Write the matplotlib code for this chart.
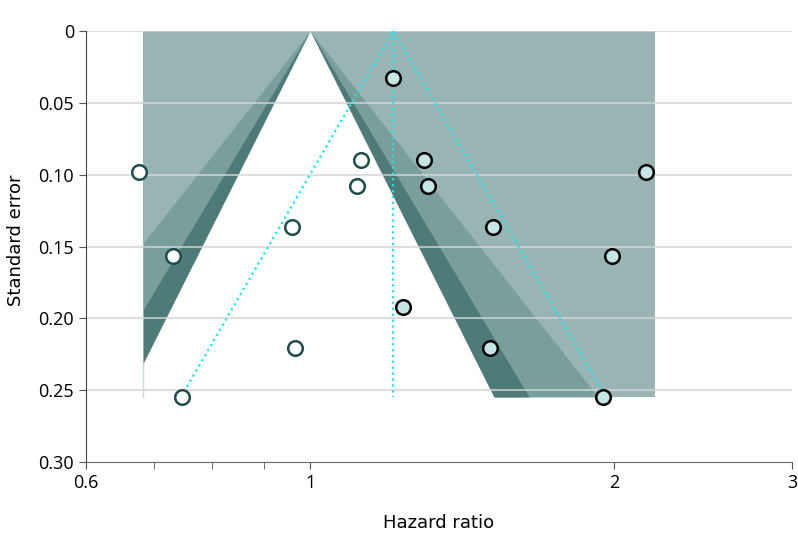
"""
Contour-enhanced funnel plot (trim-and-fill): hazard ratio vs standard error.
"""
import numpy as np
import matplotlib
matplotlib.use("Agg")
import matplotlib.pyplot as plt
from matplotlib.ticker import FixedLocator, NullFormatter

# observed studies (filled markers)
obs_hr = [1.207, 1.298, 1.307, 1.516, 1.237, 1.506, 1.949, 1.990, 2.150]
obs_se = [0.0327, 0.0898, 0.1079, 0.1364, 0.1921, 0.2206, 0.2547, 0.1566, 0.0981]

# imputed studies (open markers)
imp_hr = [0.677, 0.732, 0.960, 0.967, 0.747, 1.122, 1.114]
imp_se = [0.0981, 0.1566, 0.1364, 0.2206, 0.2547, 0.0898, 0.1079]

pooled_hr = 1.209
ci_z = 1.9
contour_z = [2.576, 1.96, 1.645]          # p = 0.01, 0.05, 0.10
hr_lo, hr_hi, se_max = 0.684, 2.195, 0.2547

x_ticks = [0.6, 1, 2, 3]
x_minor = [0.7, 0.8, 0.9]
y_ticks = [0, 0.05, 0.10, 0.15, 0.20, 0.25, 0.30]
y_labels = ["0", "0.05", "0.10", "0.15", "0.20", "0.25", "0.30"]

band_colors = ["#99b5b3", "#799e9b", "#4e7a78", "white"]
cyan = "#10eaf2"

plt.rcParams["font.family"] = ["Open Sans", "DejaVu Sans"]

fig = plt.figure(figsize=(7.98, 5.52), dpi=100)
ax = fig.add_axes([86 / 798, 1 - 462 / 552, (792 - 86) / 798, (462 - 31) / 552])

# contour bands, clipped to the study range
ln_lo, ln_hi = np.log(hr_lo), np.log(hr_hi)
ax.fill_betweenx([0, se_max], hr_lo, hr_hi, color=band_colors[0], lw=0, zorder=1)
for i, (z, c) in enumerate(zip(contour_z, band_colors[1:])):
    # the inner (white) region runs a touch past the bottom to hide the seam
    se = np.linspace(0, se_max * (1.02 if c == "white" else 1.0), 800)
    left = np.exp(np.clip(-z * se, ln_lo, ln_hi))
    right = np.exp(np.clip(z * se, ln_lo, ln_hi))
    ax.fill_betweenx(se, left, right, color=c, lw=0, zorder=1)
# thin edge left by the inner region along the clip line
se_edge = -ln_lo / contour_z[-1]
ax.plot([hr_lo, hr_lo], [se_edge, se_max], color="#c9d9d7", lw=1, zorder=1.5)

# grid
for yv in y_ticks[:-1]:
    ax.axhline(yv, color="#d4d4d4", lw=1.5, alpha=0.75, zorder=2)

# pooled estimate and its funnel
ln_p = np.log(pooled_hr)
ax.plot([pooled_hr, pooled_hr], [0, se_max], ls=":", color=cyan, lw=1.6, zorder=3)
ax.plot([np.exp(ln_p - ci_z * se_max), pooled_hr, np.exp(ln_p + ci_z * se_max)],
        [se_max, 0, se_max], ls=":", color=cyan, lw=1.6, zorder=3)

# studies
ax.plot(imp_hr, imp_se, "o", ms=10.5, mfc="white", mec="#1f4d4d", mew=1.8, zorder=4)
ax.plot(obs_hr, obs_se, "o", ms=10.5, mfc="#c6e6e6", mec="black", mew=1.8, zorder=4)

ax.set_xscale("log")
ax.set_xlim(0.6, 3)
ax.set_ylim(0.30, 0)
ax.xaxis.set_major_locator(FixedLocator(x_ticks))
ax.xaxis.set_minor_locator(FixedLocator(x_minor))
ax.xaxis.set_minor_formatter(NullFormatter())
ax.set_xticklabels([str(t) for t in x_ticks])
ax.set_yticks(y_ticks)
ax.set_yticklabels(y_labels)

for s in ["top", "right"]:
    ax.spines[s].set_visible(False)
ax.spines["left"].set_color("#444444")
ax.spines["bottom"].set_color("#666666")
ax.tick_params(axis="both", which="both", direction="out", length=5,
               color="#555555", labelsize=13, labelcolor="black")
ax.tick_params(axis="x", pad=4)

fig.text(439 / 798, 1 - 523 / 552, "Hazard ratio", ha="center", va="center",
         fontsize=13, family=["Liberation Sans Narrow", "DejaVu Sans"])
fig.text(16 / 798, 1 - 240 / 552, "Standard error", ha="center", va="center",
         rotation=90, fontsize=13, family=["Liberation Sans Narrow", "DejaVu Sans"])

fig.savefig("out.png", dpi=100)
